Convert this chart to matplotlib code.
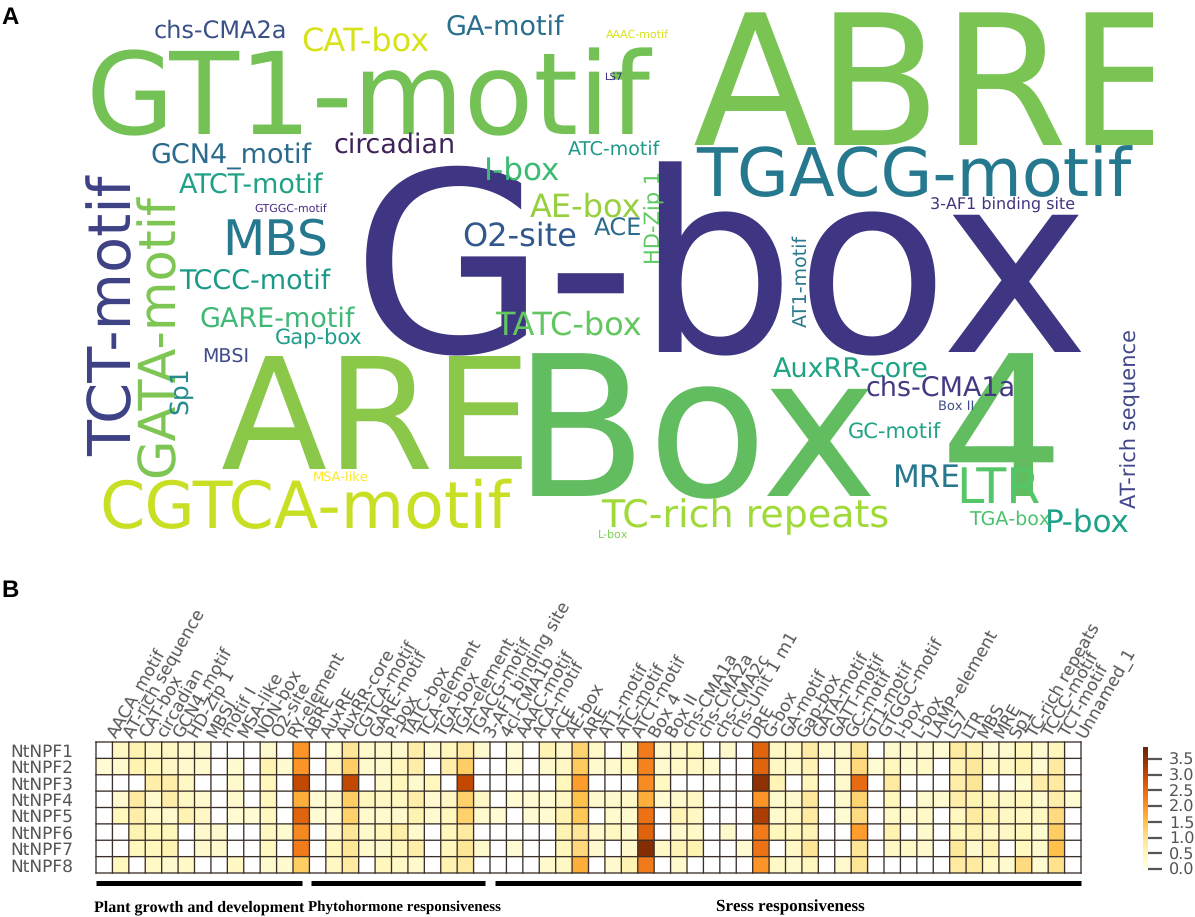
import matplotlib
matplotlib.use("Agg")
import matplotlib.pyplot as plt
import matplotlib.transforms as mtrans
import numpy as np
from matplotlib.patches import Rectangle

plt.rcParams["text.hinting"] = "none"
plt.rcParams["text.hinting_factor"] = 1

W, H = 1195, 917
GREY = "#555555"

# panel A, word cloud
words = ["G-box", "Box 4", "ABRE", "ARE", "GT1-motif", "TGACG-motif", "CGTCA-motif", "TCT-motif",
         "GATA-motif", "MBS", "LTR", "TC-rich repeats", "CAT-box", "O2-site", "TATC-box", "AE-box",
         "P-box", "MRE", "I-box", "GA-motif", "ATCT-motif", "GCN4_motif", "TCCC-motif", "GARE-motif",
         "AuxRR-core", "chs-CMA1a", "circadian", "Sp1", "chs-CMA2a", "ACE", "AT-rich sequence",
         "GC-motif", "Gap-box", "HD-Zip 1", "AT1-motif", "ATC-motif", "TGA-box", "MBSI",
         "3-AF1 binding site", "Box II", "MSA-like", "AAAC-motif", "GTGGC-motif", "L-box", "LS7"]
word_colors = ["#3e3682", "#62bc60", "#7ac454", "#8bc84a", "#74c255", "#26788e", "#c9df23", "#3d4083",
               "#7ec552", "#26788e", "#55c667", "#a0da39", "#d8e219", "#31588c", "#63c75f", "#97d03e",
               "#1fa188", "#27788e", "#3dbb74", "#2a6f8e", "#1fa187", "#2a6a8c", "#1a9a87", "#3eb874",
               "#1ea484", "#443983", "#3e2459", "#238a8d", "#3a5089", "#2b6b8e", "#404688",
               "#20a386", "#1e9d89", "#5ec962", "#2a788e", "#1f9a8a", "#4ac16d", "#3e4a89",
               "#46327e", "#3f4c8a", "#fde725", "#d8e219", "#4b2a87", "#7ad151", "#3b2a80"]
# x, y of the baseline start in pixels, font size in pixels, rotation
word_layout = [(352, 352, 246, 0), (513, 496, 192, 0), (693, 145, 178, 0), (221, 469, 152, 0),
               (86, 134, 112, 0), (696, 196, 66, 0), (99, 528, 64, 0), (131, 456, 58, 90),
               (173, 477, 50, 90), (222, 255, 48, 0), (956, 503, 48, 0), (601, 527, 37.3, 0),
               (301, 51, 31.7, 0), (462, 246, 31.5, 0), (495, 335, 31.6, 0), (530, 217, 31.3, 0),
               (1045, 532, 30.7, 0), (893, 487, 30.5, 0), (484, 180, 30, 0), (445, 35, 26.9, 0),
               (179, 193, 26.8, 0), (150, 163, 26.6, 0), (179, 289, 26.6, 0), (199, 327, 26.6, 0),
               (773, 378, 26.5, 0), (866, 396, 26.4, 0), (334, 153, 26.3, 0), (187, 414, 24.7, 90),
               (154, 38, 23.7, 0), (594, 236, 23.3, 0), (1137, 508, 21, 90),
               (848, 439, 21, 0), (275, 345, 20.8, 0), (661, 264, 20.7, 90), (807, 327, 18.8, 90),
               (568, 155, 18.4, 0), (969, 525, 18.3, 0), (202, 362, 18.2, 0),
               (930, 209, 16, 0), (938, 410, 13.2, 0), (313, 482, 13.2, 0), (606, 38, 10.7, 0),
               (254, 212, 10.7, 0), (598, 538, 10.7, 0), (604, 80, 10, 0)]

# panel B, heatmap
genes = ["NtNPF1", "NtNPF2", "NtNPF3", "NtNPF4", "NtNPF5", "NtNPF6", "NtNPF7", "NtNPF8"]
motifs = ["AACA_motif", "AT-rich sequence", "CAT-box", "circadian", "GCN4_motif", "HD-Zip 1", "MBSI",
          "motif I", "MSA-like", "NON-box", "O2-site", "RY-element", "ABRE", "AuxRE", "AuxRR-core",
          "CGTCA-motif", "GARE-motif", "P-box", "TATC-box", "TCA-element", "TGA-box", "TGA-element",
          "TGACG-motif", "3-AF1 binding site", "4cl-CMA1b", "AAAC-motif", "ACA-motif", "ACE", "AE-box",
          "ARE", "AT1-motif", "ATC-motif", "ATCT-motif", "Box 4", "Box II", "chs-CMA1a", "chs-CMA2a",
          "chs-CMA2c", "chs-Unit 1 m1", "DRE", "G-box", "GA-motif", "Gap-box", "GATA-motif",
          "GATT-motif", "GC-motif", "GT1-motif", "GTGGC-motif", "I-box", "L-box", "LAMP-element",
          "LS7", "LTR", "MBS", "MRE", "Sp1", "TC-rich repeats", "TCCC-motif", "TCT-motif", "Unnamed_1"]
# one row per motif column, NtNPF1 to NtNPF8
values = np.array([
    [0, .2, 0, 0, 0, 0, 0, 0],
    [.4, .3, 0, .3, .5, 0, 0, .5],
    [.6, .6, 0, .8, .7, .6, .5, 0],
    [.4, .5, .7, .3, .35, .5, .5, .35],
    [.4, .4, .7, .7, .3, .5, .6, .3],
    [.3, .3, .4, .4, .6, 0, 0, .35],
    [.3, .3, 0, .3, .4, .3, .3, 0],
    [0, 0, 0, 0, 0, .3, .3, 0],
    [0, .25, .3, .3, .25, 0, 0, .4],
    [0, 0, 0, 0, .2, 0, 0, 0],
    [.3, .6, .5, .5, .45, .45, .45, .3],
    [0, .25, 0, 0, 0, .25, 0, .25],
    [2.0, 2.0, 3.0, 1.7, 2.6, 2.15, 2.3, 1.3],
    [0, 0, 0, .2, .2, 0, 0, 0],
    [.2, .4, 0, .3, .2, .3, .5, .4],
    [.9, 1.3, 3.0, 1.3, 1.25, .9, .9, .8],
    [.3, .3, 0, .5, .3, .3, .3, 0],
    [.3, .3, .3, .4, .3, .5, .3, .5],
    [.3, .5, .5, .45, .3, .7, .5, .35],
    [.7, .7, .3, .7, .6, .3, .7, .3],
    [.25, 0, .5, .3, .3, 0, 0, 0],
    [.5, .7, 0, .4, .5, .5, .5, .6],
    [.8, 1.3, 3.0, 1.25, 1.25, .8, .9, .8],
    [.25, 0, 0, .4, .3, 0, .3, 0],
    [0, 0, 0, 0, .2, 0, 0, 0],
    [.2, .2, 0, .2, 0, 0, .2, 0],
    [0, 0, 0, .2, .2, 0, 0, 0],
    [.55, .3, 0, .2, .25, 0, 0, .3],
    [.3, .4, .5, .4, .6, .6, .5, .4],
    [1.2, 1.35, 1.9, 1.5, 1.4, .9, 1.15, 1.7],
    [.35, .3, 0, .3, 0, .3, .3, 0],
    [0, .3, 0, .3, .3, .45, 0, .3],
    [.35, .5, 0, .35, .3, .3, .3, .6],
    [2.3, 2.2, 2.1, 1.7, 2.4, 2.6, 3.6, 2.3],
    [.3, .3, .45, .25, 0, 0, .35, 0],
    [.35, .35, 0, .3, .55, .3, .55, .3],
    [.5, .4, 0, .4, .4, .35, .6, 0],
    [0, .25, 0, 0, 0, 0, 0, 0],
    [.3, 0, 0, 0, 0, .3, 0, 0],
    [0, 0, 0, 0, 0, 0, .25, 0],
    [2.6, 2.6, 3.5, 2.0, 3.2, 2.3, 2.4, 2.0],
    [.4, .4, .55, .3, .3, .5, 0, .35],
    [.35, .3, 0, .3, .35, .45, .35, .3],
    [.75, .55, .5, .85, .8, .55, .9, .5],
    [.3, 0, 0, 0, 0, 0, 0, 0],
    [.3, .3, .3, .3, .25, 0, 0, .3],
    [.9, 1.15, 2.5, 1.2, 1.1, 1.9, .9, .9],
    [0, .2, 0, 0, 0, 0, 0, 0],
    [.3, .5, .8, .5, .35, .6, .4, 0],
    [.25, .25, 0, 0, .25, 0, .35, 0],
    [.3, .35, 0, .3, .35, .3, .3, 0],
    [.2, 0, 0, .25, 0, 0, 0, 0],
    [.8, .6, .7, .7, .45, .5, .85, .8],
    [.6, .85, .9, .6, .8, .6, .3, .8],
    [.25, .45, 0, .5, .6, .4, .6, .45],
    [.3, .4, 0, .35, .4, .4, 0, .3],
    [.5, .6, .25, .5, .4, .5, .45, 1.1],
    [.25, .25, .7, .3, .45, .25, .3, .25],
    [.5, .8, .8, .7, 1.1, 1.3, 1.5, 1.0],
    [0, 0, 0, .2, 0, 0, 0, 0],
]).T
group_names = ["Plant growth and development", "Phytohormone responsiveness", "Sress responsiveness"]
cbar_ticks = [0, 0.5, 1, 1.5, 2, 2.5, 3, 3.5]


def pos(x0, y0, x1, y1):
    # pixel box of the reference to figure coordinates
    return [x0 / W, 1 - y1 / H, (x1 - x0) / W, (y1 - y0) / H]


fig = plt.figure(figsize=(W / 100, H / 100), dpi=100)

top = fig.add_axes([0, 0, 1, 1])
top.set_xlim(0, W)
top.set_ylim(H, 0)
top.axis("off")

clip = Rectangle((0, 0), 1153, H, transform=top.transData)
for word, color, (x, y, size, rot) in zip(words, word_colors, word_layout):
    t = top.text(x, y, word, color=color, fontsize=size * 0.72 * 1.02, rotation=rot,
                 rotation_mode="anchor", ha="left", va="baseline", family="DejaVu Sans")
    t.set_clip_path(clip)
    t.set_clip_on(True)

top.text(1, 24, "A", fontsize=17, fontweight="bold", family="Liberation Sans", va="baseline")
top.text(1, 597, "B", fontsize=17, fontweight="bold", family="Liberation Sans", va="baseline")

ax = fig.add_axes(pos(96, 742, 1081, 873))
mesh = ax.pcolormesh(np.ma.masked_equal(values, 0), cmap="YlOrBr", vmin=0, vmax=3.88)
ax.set_facecolor("white")
ax.invert_yaxis()
# grid drawn apart from the mesh so it is not snapped to a single pixel
for i in range(len(motifs) + 1):
    ax.axvline(i, color="#3b2f2a", lw=0.95, snap=False, clip_on=False)
for j in range(len(genes) + 1):
    ax.axhline(j, color="#3b2f2a", lw=0.95, snap=False, clip_on=False)
ax.set_xticks(np.arange(len(motifs)) + 0.5)
ax.set_xticklabels(motifs, rotation=60, ha="left", va="center", rotation_mode="anchor")
ax.set_yticks(np.arange(len(genes)) + 0.5)
ax.set_yticklabels(genes)
ax.xaxis.tick_top()
ax.tick_params(axis="x", length=0, pad=4, labelsize=12.2, labelcolor=GREY)
ax.tick_params(axis="y", length=0, pad=16.5, labelsize=11.9, labelcolor=GREY)
# the motif names start a little right of their column
shift = mtrans.ScaledTranslation(8 / 100, 0, fig.dpi_scale_trans)
for lab in ax.get_xticklabels():
    lab.set_transform(lab.get_transform() + shift)
for s in ax.spines.values():
    s.set_visible(False)

cax = fig.add_axes(pos(1143, 747, 1148, 869))
cb = fig.colorbar(mesh, cax=cax, ticks=cbar_ticks)
cb.outline.set_visible(False)
cb.ax.tick_params(length=10, width=1.6, color=GREY, labelsize=11.5, labelcolor=GREY, pad=5)
cb.ax.set_yticklabels(["%.1f" % v for v in cbar_ticks])

# group bars and names under the heatmap
top.plot([96, 302], [883, 883], color="black", lw=3.6, solid_capstyle="butt")
top.plot([311, 485], [883, 883], color="black", lw=3.6, solid_capstyle="butt")
top.plot([495, 1081], [883, 883], color="black", lw=3.6, solid_capstyle="butt")
for name, xc, fs in zip(group_names, [199, 404, 790], [11.2, 10.9, 12.5]):
    top.text(xc, 911, name, ha="center", va="baseline", fontsize=fs,
             fontweight="bold", family="Liberation Serif")

fig.savefig("out.png", dpi=100)
